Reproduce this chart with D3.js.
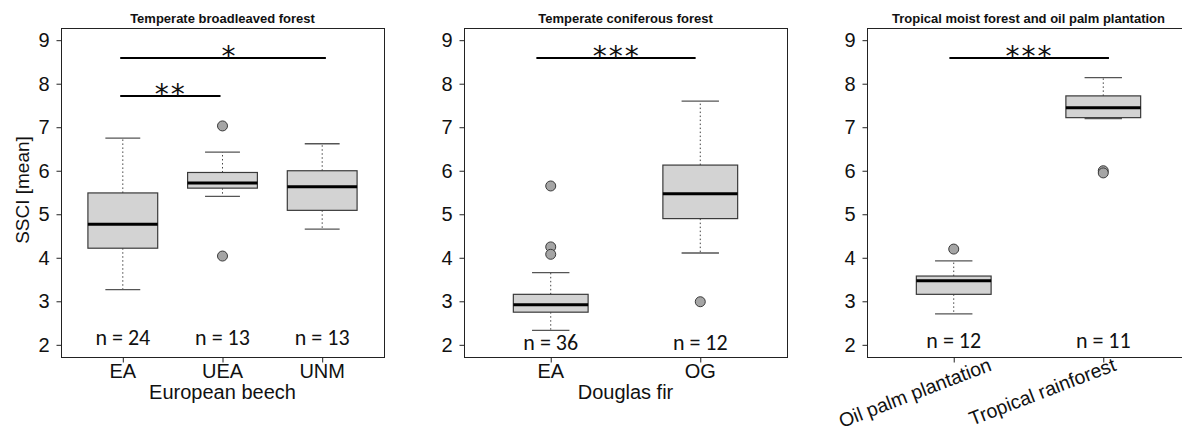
<!DOCTYPE html>
<html><head><meta charset="utf-8">
<script src="https://cdn.jsdelivr.net/npm/d3@7/dist/d3.min.js"></script>
<style>body{margin:0;background:#fff}</style></head>
<body>
<svg id="c" width="1182" height="432"></svg>
<script>
// ---------- DATA ----------
const panelTitles = ["Temperate broadleaved forest", "Temperate coniferous forest", "Tropical moist forest and oil palm plantation"];
const axisTitles = ["European beech", "Douglas fir", ""];
const yTicks = [2, 3, 4, 5, 6, 7, 8, 9];
const yLabel = "SSCI [mean]";

const broadleavedCategories = ["EA", "UEA", "UNM"];
// [lower whisker, Q1, median, Q3, upper whisker]
const broadleavedBoxes = [[3.27, 4.22, 4.77, 5.49, 6.75], [5.41, 5.60, 5.72, 5.96, 6.43], [4.66, 5.09, 5.63, 6.00, 6.62]];
const broadleavedOutliers = [[], [7.03, 4.04], []];
const broadleavedN = [24, 13, 13];
const broadleavedSignif = [{from: 0.974, to: 3.037, y: 8.59, mark: "*", at: 2.06}, {from: 0.974, to: 1.98, y: 7.72, mark: "**", at: 1.47}];

const coniferousCategories = ["EA", "OG"];
const coniferousBoxes = [[2.33, 2.75, 2.92, 3.16, 3.66], [4.11, 4.90, 5.47, 6.13, 7.60]];
const coniferousOutliers = [[5.65, 4.25, 4.08], [2.99]];
const coniferousN = [36, 12];
const coniferousSignif = [{from: 0.904, to: 1.969, y: 8.59, mark: "***", at: 1.435}];

const tropicalCategories = ["Oil palm plantation", "Tropical rainforest"];
const tropicalBoxes = [[2.71, 3.16, 3.47, 3.58, 3.93], [7.20, 7.22, 7.45, 7.72, 8.14]];
const tropicalOutliers = [[4.20], [6.00, 5.95]];
const tropicalN = [12, 11];
const tropicalSignif = [{from: 0.971, to: 2.038, y: 8.59, mark: "***", at: 1.5}];

// ---------- LAYOUT ----------
const panels = [
  {left: 61, right: 384, boxW: 0.7, nBase: 345, cats: broadleavedCategories, boxes: broadleavedBoxes, out: broadleavedOutliers, n: broadleavedN, sig: broadleavedSignif, rotate: false},
  {left: 464, right: 787, boxW: 0.5, nBase: 350, cats: coniferousCategories, boxes: coniferousBoxes, out: coniferousOutliers, n: coniferousN, sig: coniferousSignif, rotate: false},
  {left: 867, right: 1190, boxW: 0.5, nBase: 348, cats: tropicalCategories, boxes: tropicalBoxes, out: tropicalOutliers, n: tropicalN, sig: tropicalSignif, rotate: true, labelDx: [39, 14]}
];
const plotTop = 28, plotBottom = 357;
const svg = d3.select("#c");
const y = d3.scaleLinear().domain([1.72, 9.28]).range([plotBottom, plotTop]);
const sans = "'Liberation Sans', Arial, sans-serif";
const calib = "Carlito, Lato, 'Open Sans', sans-serif";

panels.forEach((p, pi) => {
  const k = p.cats.length;
  const ext = k * 0.04;
  const x = d3.scaleLinear().domain([0.5 - ext, k + 0.5 + ext]).range([p.left, p.right]);
  const g = svg.append("g");

  g.append("rect").attr("x", p.left + 0.5).attr("y", plotTop + 0.5)
    .attr("width", p.right - p.left).attr("height", plotBottom - plotTop)
    .attr("fill", "none").attr("stroke", "#222").attr("stroke-width", 1);

  const ya = d3.axisLeft(y).tickValues(yTicks).tickSize(5).tickPadding(7).tickFormat(d3.format("d"));
  const yg = g.append("g").attr("transform", `translate(${p.left + 0.5},0)`).call(ya);
  yg.select(".domain").remove();
  yg.selectAll("line").attr("stroke", "#222");
  yg.selectAll("text").attr("font-family", sans).attr("font-size", 20).attr("fill", "#111");

  const xa = d3.axisBottom(x).tickValues(d3.range(1, k + 1)).tickSize(5).tickFormat(() => "");
  const xg = g.append("g").attr("transform", `translate(0,${plotBottom + 0.5})`).call(xa);
  xg.select(".domain").remove();
  xg.selectAll("line").attr("stroke", "#222");

  if (!p.rotate) {
    g.selectAll(".xl").data(p.cats).join("text")
      .attr("x", (d, i) => x(i + 1)).attr("y", 378)
      .attr("text-anchor", "middle").attr("font-family", sans).attr("font-size", 20).attr("fill", "#111")
      .text(d => d);
  } else {
    g.selectAll(".xl").data(p.cats).join("text")
      .attr("transform", (d, i) => `translate(${x(i + 1) + p.labelDx[i]},370) rotate(-21)`)
      .attr("text-anchor", "end").attr("font-family", sans).attr("font-size", 19.5).attr("fill", "#111")
      .text(d => d);
  }
  g.append("text").attr("x", (p.left + p.right) / 2).attr("y", 399)
    .attr("text-anchor", "middle").attr("font-family", sans).attr("font-size", 20).attr("fill", "#111")
    .text(axisTitles[pi]);
  g.append("text").attr("x", (p.left + p.right) / 2).attr("y", 22.5)
    .attr("text-anchor", "middle").attr("font-family", sans).attr("font-weight", "bold").attr("font-size", 13).attr("fill", "#111")
    .text(panelTitles[pi]);

  const bw = p.boxW;
  p.boxes.forEach((b, i) => {
    const cx = x(i + 1);
    const half = (x(bw) - x(0)) / 2;
    const capHalf = half / 2;
    const [lw, q1, med, q3, uw] = b;
    g.append("line").attr("x1", cx).attr("x2", cx).attr("y1", y(q3)).attr("y2", y(uw))
      .attr("stroke", "#444").attr("stroke-dasharray", "1.5,2.5");
    g.append("line").attr("x1", cx).attr("x2", cx).attr("y1", y(q1)).attr("y2", y(lw))
      .attr("stroke", "#444").attr("stroke-dasharray", "1.5,2.5");
    [lw, uw].forEach(v => g.append("line").attr("x1", cx - capHalf).attr("x2", cx + capHalf)
      .attr("y1", y(v)).attr("y2", y(v)).attr("stroke", "#555").attr("stroke-width", 1.3));
    g.append("rect").attr("x", cx - half).attr("y", y(q3)).attr("width", 2 * half).attr("height", y(q1) - y(q3))
      .attr("fill", "#d3d3d3").attr("stroke", "#3a3a3a").attr("stroke-width", 1.2);
    g.append("line").attr("x1", cx - half).attr("x2", cx + half).attr("y1", y(med)).attr("y2", y(med))
      .attr("stroke", "#000").attr("stroke-width", 3);
    g.selectAll(null).data(p.out[i]).join("circle")
      .attr("cx", cx).attr("cy", d => y(d)).attr("r", 5)
      .attr("fill", "#a5a5a5").attr("stroke", "#3a3a3a").attr("stroke-width", 1);
    g.append("text").attr("x", cx).attr("y", p.nBase)
      .attr("text-anchor", "middle").attr("font-family", calib).attr("font-size", 22).attr("fill", "#111")
      .text(`n = ${p.n[i]}`);
  });

  p.sig.forEach(s => {
    g.append("line").attr("x1", x(s.from)).attr("x2", x(s.to)).attr("y1", y(s.y)).attr("y2", y(s.y))
      .attr("stroke", "#000").attr("stroke-width", 2);
    g.append("text").attr("x", x(s.at) + 1).attr("y", y(s.y) + 8)
      .attr("text-anchor", "middle").attr("font-family", "'DejaVu Sans', sans-serif").attr("font-size", 28)
      .attr("letter-spacing", 2).attr("fill", "#111").text(s.mark);
  });
});

svg.append("text").attr("transform", `translate(29,190) rotate(-90)`)
  .attr("text-anchor", "middle").attr("font-family", sans).attr("font-size", 19).attr("fill", "#111")
  .text(yLabel);
</script>
</body></html>
